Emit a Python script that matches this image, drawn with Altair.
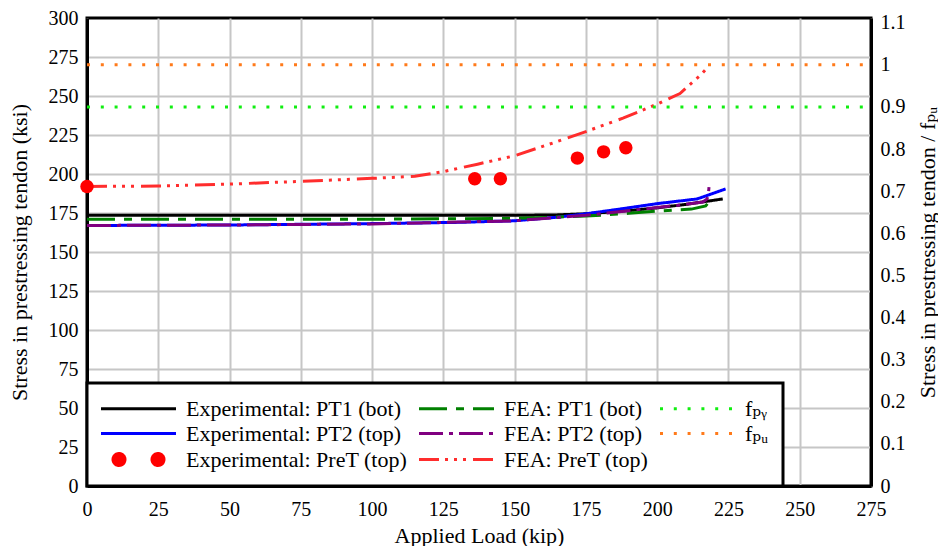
import altair as alt
import pandas as pd

# ---------------- data ----------------
load_exp_pt1 = [0, 50, 100, 150, 165, 175, 190, 200, 210, 223]
stress_exp_pt1 = [173.5, 173.5, 173.5, 173.5, 173.8, 174.5, 176.5, 178.3, 180.5, 184.0]

load_exp_pt2 = [0, 50, 100, 130, 150, 165, 175, 186, 200, 214, 224]
stress_exp_pt2 = [167.0, 167.3, 168.2, 169.0, 170.0, 172.3, 174.5, 177.3, 181.0, 184.0, 190.4]

load_fea_pt1 = [0, 50, 100, 150, 175, 190, 200, 212, 217, 219]
stress_fea_pt1 = [171.0, 171.0, 171.0, 171.5, 173.0, 174.8, 176.2, 177.5, 179.5, 184.0]

load_fea_pt2 = [0, 50, 100, 150, 175, 190, 200, 210, 216, 217.5, 218, 218.2]
stress_fea_pt2 = [167.0, 167.3, 168.0, 170.0, 173.5, 176.5, 178.5, 180.5, 182.0, 184.0, 188.0, 192.0]

load_fea_pret = [0, 25, 50, 75, 100, 115, 125, 137, 150, 162, 175, 188, 200, 208, 215, 218]
stress_fea_pret = [192.0, 192.3, 193.5, 195.3, 197.2, 198.5, 201.5, 206.3, 211.7, 219.0,
                   227.2, 235.8, 244.8, 251.6, 263.0, 269.0]

load_exp_pret = [0, 136, 145, 172, 181.2, 189]
stress_exp_pret = [192.0, 197.0, 197.0, 210.2, 214.2, 216.8]

fpy_load = [0, 275]
fpy_stress = [243, 243]
fpu_load = [0, 275]
fpu_stress = [270, 270]

ratio_ticks = [0, 0.1, 0.2, 0.3, 0.4, 0.5, 0.6, 0.7, 0.8, 0.9, 1.0, 1.1]
x_ticks = [0, 25, 50, 75, 100, 125, 150, 175, 200, 225, 250, 275]
y_ticks = [0, 25, 50, 75, 100, 125, 150, 175, 200, 225, 250, 275, 300]

S_EXP1 = "Experimental: PT1 (bot)"
S_EXP2 = "Experimental: PT2 (top)"
S_EXP3 = "Experimental: PreT (top)"
S_FEA1 = "FEA: PT1 (bot)"
S_FEA2 = "FEA: PT2 (top)"
S_FEA3 = "FEA: PreT (top)"
S_FPY = "f\u209a\u1d67"
S_FPU = "f\u209a\u1d64"

# legend order (filled column by column, 3 columns)
series_order = [S_EXP1, S_EXP2, S_EXP3, S_FEA1, S_FEA2, S_FEA3, S_FPY, S_FPU]
series_colors = ["#000000", "#0000ff", "#ff0000", "#008000", "#800080", "#ff2d2d", "#11ee11", "#ff7a1a"]
series_dashes = [[1, 0], [1, 0], [1, 0], [28, 9, 8, 9], [24, 6, 4, 6],
                 [20, 6, 3, 6, 3, 6, 3, 7], [3, 10.8], [3, 10.8]]
series_widths = [3, 3, 3, 4, 3.5, 4, 3, 3]
line_path = "M -3.75 0 L 3.75 0"
dots_path = ("M -2.55 0 A 0.6 0.6 0 1 1 -1.35 0 A 0.6 0.6 0 1 1 -2.55 0 Z "
             "M 1.35 0 A 0.6 0.6 0 1 1 2.55 0 A 0.6 0.6 0 1 1 1.35 0 Z")
series_shapes = [line_path, line_path, dots_path, line_path, line_path, line_path, line_path, line_path]

rows = []
for name, xs, ys in [
    (S_EXP1, load_exp_pt1, stress_exp_pt1),
    (S_EXP2, load_exp_pt2, stress_exp_pt2),
    (S_FEA1, load_fea_pt1, stress_fea_pt1),
    (S_FEA2, load_fea_pt2, stress_fea_pt2),
    (S_FEA3, load_fea_pret, stress_fea_pret),
    (S_FPY, fpy_load, fpy_stress),
    (S_FPU, fpu_load, fpu_stress),
]:
    for i, (a, b) in enumerate(zip(xs, ys)):
        rows.append({"load": a, "stress": b, "series": name, "idx": i})
lines_df = pd.DataFrame(rows)
points_df = pd.DataFrame({"load": load_exp_pret, "stress": stress_exp_pret, "series": S_EXP3})
legend_df = pd.DataFrame({"series": series_order, "load": [0] * 8, "stress": [0] * 8})
ratio_df = pd.DataFrame({"ratio": [0, 1.1]})

FONT = "Liberation Serif, Times New Roman, DejaVu Serif, serif"

x_enc = alt.X("load:Q", scale=alt.Scale(domain=[0, 275], nice=False),
              axis=alt.Axis(values=x_ticks, title="Applied Load (kip)", labelPadding=13,
                            labelFlush=False, titlePadding=6))
y_enc = alt.Y("stress:Q", scale=alt.Scale(domain=[0, 300], nice=False),
              axis=alt.Axis(values=y_ticks, title="Stress in prestressing tendon (ksi)",
                            titlePadding=17,
                            gridOpacity={"condition": {"test": "datum.value >= 300", "value": 0},
                                         "value": 1}))

def sc(rng):
    return alt.Scale(domain=series_order, range=rng)

stroke_enc = alt.Stroke("series:N", scale=sc(series_colors), legend=alt.Legend(title=None))
fill_enc = alt.Fill("series:N", scale=sc(series_colors), legend=alt.Legend(title=None))
dash_enc = alt.StrokeDash("series:N", scale=sc(series_dashes), legend=alt.Legend(title=None))
shape_enc = alt.Shape("series:N", scale=sc(series_shapes), legend=alt.Legend(title=None))

hidden = alt.Chart(legend_df).transform_filter("false").mark_point(filled=True, opacity=1).encode(
    x=x_enc, y=y_enc, stroke=stroke_enc, fill=fill_enc, strokeDash=dash_enc, shape=shape_enc)

lines = alt.Chart(lines_df).mark_line(opacity=1).encode(
    x=x_enc, y=y_enc, stroke=stroke_enc, strokeDash=dash_enc,
    strokeWidth=alt.StrokeWidth("series:N", scale=sc(series_widths), legend=None),
    order="idx:Q")

points = alt.Chart(points_df).mark_circle(size=180, opacity=1).encode(
    x=x_enc, y=y_enc, fill=fill_enc)

left = alt.layer(hidden, lines, points)

right = alt.Chart(ratio_df).mark_rule(opacity=0).encode(
    y=alt.Y("ratio:Q", scale=alt.Scale(domain=[0, 1.1111], nice=False),
            axis=alt.Axis(orient="right", values=ratio_ticks, grid=False,
                          labelExpr="format(datum.value, '.1~f')",
                          title="Stress in prestressing tendon / f\u209a\u1d64",
                          titleAngle=270, titleBaseline="top", titlePadding=12)))

chart = alt.layer(left, right).resolve_scale(y="independent").properties(
    width=784, height=468,
    padding={"left": 0, "top": 0, "right": 0, "bottom": 0},
).configure_view(stroke="black", strokeWidth=3).configure_axis(
    labelFont=FONT, titleFont=FONT, labelFontSize=20, titleFontSize=22,
    titleFontWeight="normal", labelColor="black", titleColor="black",
    ticks=False, gridColor="#c6c6c6", gridWidth=2, domainColor="black", domainWidth=3,
    labelPadding=9,
).configure_legend(
    orient="bottom-left", offset=0, columns=3, fillColor="white", strokeColor="black",
    strokeWidth=3, padding=14, labelFont=FONT, labelFontSize=22, labelColor="black",
    labelLimit=0, symbolSize=400, symbolStrokeWidth=3, symbolOffset=26, labelOffset=36,
    columnPadding=5, rowPadding=2, cornerRadius=0, symbolOpacity=1,
)

chart.save("out.html", embed_options={"renderer": "svg", "actions": False})
